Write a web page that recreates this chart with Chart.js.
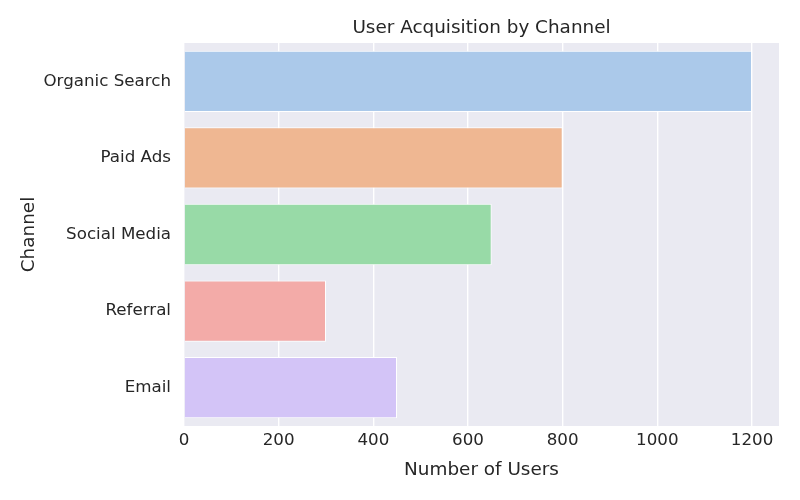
<!DOCTYPE html>
<html>
<head>
<meta charset="utf-8">
<script src="https://cdn.jsdelivr.net/npm/chart.js@4"></script>
<style>
  html, body { margin: 0; padding: 0; background: #ffffff; }
  #wrap { width: 800px; height: 500px; position: relative; }
</style>
</head>
<body>
<div id="wrap"><canvas id="c" width="800" height="500"></canvas></div>
<script>
const chartTitle = "User Acquisition by Channel";
const categories = ["Organic Search", "Paid Ads", "Social Media", "Referral", "Email"];
const users = [1200, 800, 650, 300, 450];
const barColors = ["#abc9ea", "#efb792", "#98daa7", "#f3aba8", "#d3c4f7"];
const xTicks = [0, 200, 400, 600, 800, 1000, 1200];
const xLabel = "Number of Users";
const yLabel = "Channel";

const TEXT = "#262626";
const FONT = "'DejaVu Sans', sans-serif";

const bgPlugin = {
  id: "plotBg",
  beforeDraw(chart) {
    const { ctx, chartArea: a } = chart;
    ctx.save();
    ctx.fillStyle = "#eaeaf2";
    ctx.fillRect(a.left, a.top, a.right - a.left, a.bottom - a.top);
    ctx.restore();
  },
  afterDraw(chart) {
    const { ctx, chartArea: a } = chart;
    ctx.save();
    ctx.fillStyle = TEXT;
    ctx.font = "18.4px " + FONT;
    ctx.textAlign = "center";
    ctx.textBaseline = "middle";
    ctx.fillText(chartTitle, (a.left + a.right) / 2, 28);
    ctx.restore();
  }
};

new Chart(document.getElementById("c"), {
  type: "bar",
  data: {
    labels: categories,
    datasets: [{
      data: users,
      backgroundColor: barColors,
      borderColor: "#ffffff",
      borderWidth: 1,
      barPercentage: 0.8,
      categoryPercentage: 1.0
    }]
  },
  plugins: [bgPlugin],
  options: {
    indexAxis: "y",
    responsive: false,
    animation: false,
    layout: { padding: { top: 43, right: 21, left: 0, bottom: 0 } },
    plugins: {
      legend: { display: false },
      title: { display: false },
      tooltip: { enabled: false }
    },
    scales: {
      x: {
        min: 0,
        max: 1257,
        afterBuildTicks(scale) { scale.ticks = xTicks.map(v => ({ value: v })); },
        afterFit(scale) { scale.height = 74; },
        grid: { color: "#ffffff", lineWidth: 1.4, drawTicks: false },
        border: { display: false },
        ticks: {
          color: TEXT,
          font: { family: FONT, size: 16.7 },
          padding: 5,
          maxRotation: 0,
          autoSkip: false,
          callback: (v) => String(v)
        },
        title: {
          display: true,
          text: xLabel,
          color: TEXT,
          font: { family: FONT, size: 18.4 },
          padding: { top: 0, bottom: 19 }
        }
      },
      y: {
        offset: true,
        afterFit(scale) { scale.width = 184; },
        grid: { display: false, drawTicks: false },
        border: { display: false },
        ticks: {
          color: TEXT,
          font: { family: FONT, size: 16.7 },
          padding: 13
        },
        title: {
          display: true,
          text: yLabel,
          color: TEXT,
          font: { family: FONT, size: 18.4 },
          padding: { top: 18, bottom: 0 }
        }
      }
    }
  }
});
</script>
</body>
</html>
